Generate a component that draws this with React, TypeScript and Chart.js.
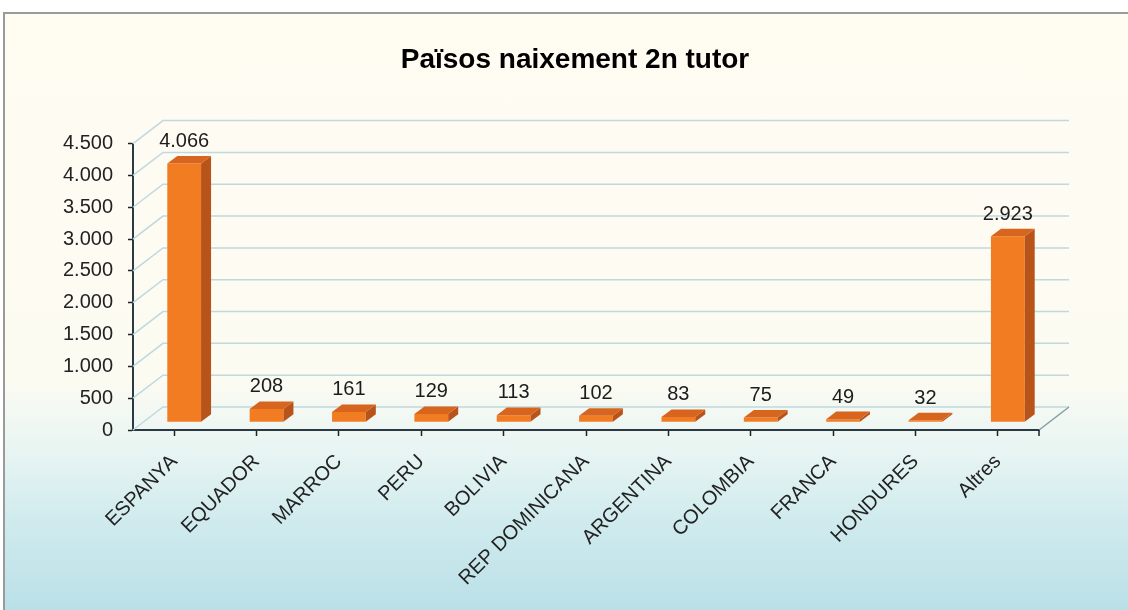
import React, { useEffect, useRef } from 'react';
import { Chart, registerables } from 'chart.js';

Chart.register(...registerables);

const TITLE = 'Països naixement 2n tutor';
const categories = ['ESPANYA', 'EQUADOR', 'MARROC', 'PERU', 'BOLIVIA', 'REP DOMINICANA', 'ARGENTINA', 'COLOMBIA', 'FRANCA', 'HONDURES', 'Altres'];
const values = [4066, 208, 161, 129, 113, 102, 83, 75, 49, 32, 2923];
const Y_MIN = 0;
const Y_MAX = 4500;
const Y_STEP = 500;

const FONT = '"Liberation Sans", Arial, sans-serif';
const DX = 30;
const DY = 23;

const fmt = (v: number) => String(Math.round(v)).replace(/\B(?=(\d{3})+(?!\d))/g, '.');

const threeD = {
  id: 'threeD',
  beforeDatasetsDraw(chart: any) {
    const { ctx, chartArea, scales } = chart;
    const y = scales.y;
    ctx.save();
    ctx.strokeStyle = '#bfd9e0';
    ctx.lineWidth = 1.5;
    y.ticks.forEach((t: any) => {
      const py = y.getPixelForValue(t.value);
      ctx.beginPath();
      ctx.moveTo(chartArea.left, py);
      ctx.lineTo(chartArea.left + DX, py - DY);
      ctx.lineTo(chartArea.right + DX, py - DY);
      ctx.stroke();
    });
    ctx.strokeStyle = '#7f9ea8';
    ctx.beginPath();
    ctx.moveTo(chartArea.right, chartArea.bottom);
    ctx.lineTo(chartArea.right + DX, chartArea.bottom - DY);
    ctx.stroke();
    ctx.strokeStyle = '#222';
    ctx.lineWidth = 1.5;
    ctx.beginPath();
    ctx.moveTo(chartArea.right, chartArea.bottom);
    ctx.lineTo(chartArea.right, chartArea.bottom + 6);
    ctx.stroke();
    ctx.restore();
    ctx.save();
    ctx.translate(DX / 3, -DY / 3);
  },
  afterDatasetsDraw(chart: any) {
    const ctx = chart.ctx;
    ctx.restore();
    const meta = chart.getDatasetMeta(0);
    const ox = DX / 3;
    const oy = -DY / 3;
    const d = DX / 3;
    const dd = DY / 3;
    ctx.save();
    meta.data.forEach((bar: any, i: number) => {
      const p = bar.getProps(['x', 'y', 'base', 'width'], true);
      const xl = p.x - p.width / 2 + ox;
      const xr = p.x + p.width / 2 + ox;
      const yt = p.y + oy;
      const yb = p.base + oy;
      ctx.fillStyle = '#b8531a';
      ctx.beginPath();
      ctx.moveTo(xr, yt);
      ctx.lineTo(xr + d, yt - dd);
      ctx.lineTo(xr + d, yb - dd);
      ctx.lineTo(xr, yb);
      ctx.closePath();
      ctx.fill();
      ctx.fillStyle = '#d8651e';
      ctx.beginPath();
      ctx.moveTo(xl, yt);
      ctx.lineTo(xr, yt);
      ctx.lineTo(xr + d, yt - dd);
      ctx.lineTo(xl + d, yt - dd);
      ctx.closePath();
      ctx.fill();
      ctx.fillStyle = '#1c1c1c';
      ctx.font = `20px ${FONT}`;
      ctx.textAlign = 'center';
      ctx.textBaseline = 'alphabetic';
      ctx.fillText(fmt(values[i]), (xl + xr) / 2, yt - dd - 9);
    });
    ctx.restore();
  },
};

export default function App() {
  const ref = useRef<HTMLCanvasElement | null>(null);

  useEffect(() => {
    if (!ref.current) return;
    const chart = new Chart(ref.current, {
      type: 'bar',
      data: {
        labels: categories,
        datasets: [
          {
            data: values,
            backgroundColor: '#f27c22',
            borderWidth: 0,
            barPercentage: 0.41,
            categoryPercentage: 1,
          },
        ],
      },
      options: {
        responsive: false,
        animation: false,
        devicePixelRatio: 1,
        layout: { padding: { left: 22, right: 0, top: 0, bottom: 0 } },
        plugins: {
          legend: { display: false },
          tooltip: { enabled: false },
          title: {
            display: true,
            text: TITLE,
            color: '#000',
            font: { family: FONT, size: 28, weight: 'bold' },
            padding: { top: 43, bottom: 67 },
          },
        },
        scales: {
          x: {
            afterFit: (s: any) => {
              s.height = 180;
            },
            grid: { display: true, drawOnChartArea: false, offset: false, tickLength: 6, tickColor: '#222', tickWidth: 1.5 },
            border: { display: true, color: '#2a3a44', width: 2 },
            ticks: {
              autoSkip: false,
              minRotation: 45,
              maxRotation: 45,
              padding: 14,
              color: '#222',
              font: { family: FONT, size: 20 },
            },
          },
          y: {
            min: Y_MIN,
            max: Y_MAX,
            afterFit: (s: any) => {
              s.width = 111;
            },
            grid: { display: true, drawOnChartArea: false, tickLength: 5, tickColor: '#222', tickWidth: 1.5 },
            border: { display: true, color: '#2a3a44', width: 2 },
            ticks: {
              stepSize: Y_STEP,
              padding: 15,
              color: '#222',
              font: { family: FONT, size: 20 },
              callback: (v: any) => fmt(Number(v)),
            },
          },
          yRight: {
            position: 'right',
            display: true,
            afterFit: (s: any) => {
              s.width = 89;
            },
            grid: { display: false },
            border: { display: false },
            ticks: { display: false },
          },
        },
      },
      plugins: [threeD],
    });
    return () => chart.destroy();
  }, []);

  return (
    <div style={{ position: 'fixed', left: 0, top: 0, width: 1128, height: 610, overflow: 'hidden', background: '#fff' }}>
      <div
        style={{
          position: 'absolute',
          left: 3,
          top: 12,
          width: 1135,
          height: 610,
          border: '2px solid #9a9a9a',
          background: 'linear-gradient(to bottom, #fffcf2 0%, #fcfbf2 60%, #e9f5f3 71%, #d0ebee 83%, #b6dee6 100%)',
        }}
      />
      <canvas ref={ref} width={1128} height={610} style={{ position: 'absolute', left: 0, top: 0, width: 1128, height: 610 }} />
    </div>
  );
}
